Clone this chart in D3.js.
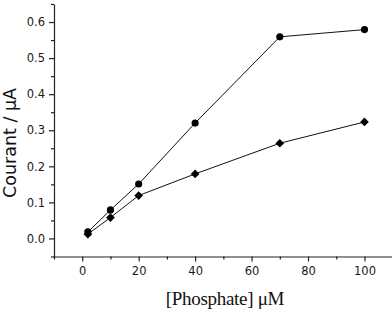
<!DOCTYPE html>
<html>
<head>
<meta charset="utf-8">
<script src="https://cdn.jsdelivr.net/npm/d3@7"></script>
<style>
  body { margin: 0; background: #fff; }
  .tick text { font-family: "DejaVu Sans", sans-serif; font-size: 11.5px; fill: #1a1a1a; }
</style>
</head>
<body>
<script>
const concentrations = [2, 10, 20, 40, 70, 100];
const courantCircles = [0.018, 0.079, 0.151, 0.32, 0.559, 0.579];
const courantDiamonds = [0.012, 0.058, 0.119, 0.179, 0.264, 0.323];
const xTicks = [0, 20, 40, 60, 80, 100];
const yTicks = [0.0, 0.1, 0.2, 0.3, 0.4, 0.5, 0.6];

const width = 392, height = 315;
const margin = {top: 4, left: 54, bottom: 59};

const svg = d3.select('body').append('svg')
    .attr('width', width)
    .attr('height', height);

const x = d3.scaleLinear().domain([-10, 110]).range([margin.left, 392.7]);
const y = d3.scaleLinear().domain([-0.05, 0.65]).range([height - margin.bottom + 0.5, margin.top]);

// minor ticks
const xMinor = d3.range(-10, 111, 10).filter(v => !xTicks.includes(v));
const yMinor = [-0.05, 0.05, 0.15, 0.25, 0.35, 0.45, 0.55, 0.65];

svg.append('g')
    .attr('transform', 'translate(0,' + y(-0.05) + ')')
    .call(d3.axisBottom(x).tickValues(xTicks).tickFormat(d3.format('d')).tickSize(5).tickSizeOuter(0).tickPadding(5));
svg.append('g')
    .attr('transform', 'translate(0,' + y(-0.05) + ')')
    .call(d3.axisBottom(x).tickValues(xMinor).tickFormat('').tickSize(3).tickSizeOuter(0))
    .select('.domain').remove();

svg.append('g')
    .attr('transform', 'translate(' + x(-10) + ',0)')
    .call(d3.axisLeft(y).tickValues(yTicks).tickFormat(d3.format('.1f')).tickSize(5).tickSizeOuter(0).tickPadding(4));
svg.append('g')
    .attr('transform', 'translate(' + x(-10) + ',0)')
    .call(d3.axisLeft(y).tickValues(yMinor).tickFormat('').tickSize(3).tickSizeOuter(0))
    .select('.domain').remove();

svg.selectAll('.domain, .tick line').attr('stroke', '#222').attr('stroke-width', 1.2);

// lines
const line = d3.line()
    .x(d => x(d[0]))
    .y(d => y(d[1]));

const circleData = concentrations.map((c, i) => [c, courantCircles[i]]);
const diamondData = concentrations.map((c, i) => [c, courantDiamonds[i]]);

[circleData, diamondData].forEach(data => {
    svg.append('path')
        .datum(data)
        .attr('d', line)
        .attr('fill', 'none')
        .attr('stroke', '#111')
        .attr('stroke-width', 1);
});

svg.selectAll('circle.pt')
    .data(circleData)
    .enter()
    .append('circle')
    .attr('class', 'pt')
    .attr('cx', d => x(d[0]))
    .attr('cy', d => y(d[1]))
    .attr('r', 3.6)
    .attr('fill', '#000');

const diamond = d3.symbol().type(d3.symbolDiamond2).size(48);
svg.selectAll('path.dm')
    .data(diamondData)
    .enter()
    .append('path')
    .attr('class', 'dm')
    .attr('d', diamond)
    .attr('transform', d => 'translate(' + x(d[0]) + ',' + y(d[1]) + ')')
    .attr('fill', '#000');

// axis titles
svg.append('text')
    .attr('transform', 'translate(16,143) rotate(-90)')
    .attr('text-anchor', 'middle')
    .style('font-family', '"DejaVu Sans", sans-serif')
    .style('font-size', '17.5px')
    .attr('fill', '#111')
    .text('Courant / μA');

svg.append('text')
    .attr('x', 225)
    .attr('y', 305)
    .attr('text-anchor', 'middle')
    .style('font-family', '"Liberation Serif", serif')
    .style('font-size', '19px')
    .style('letter-spacing', '-0.3px')
    .attr('fill', '#111')
    .text('[Phosphate] μM');
</script>
</body>
</html>
